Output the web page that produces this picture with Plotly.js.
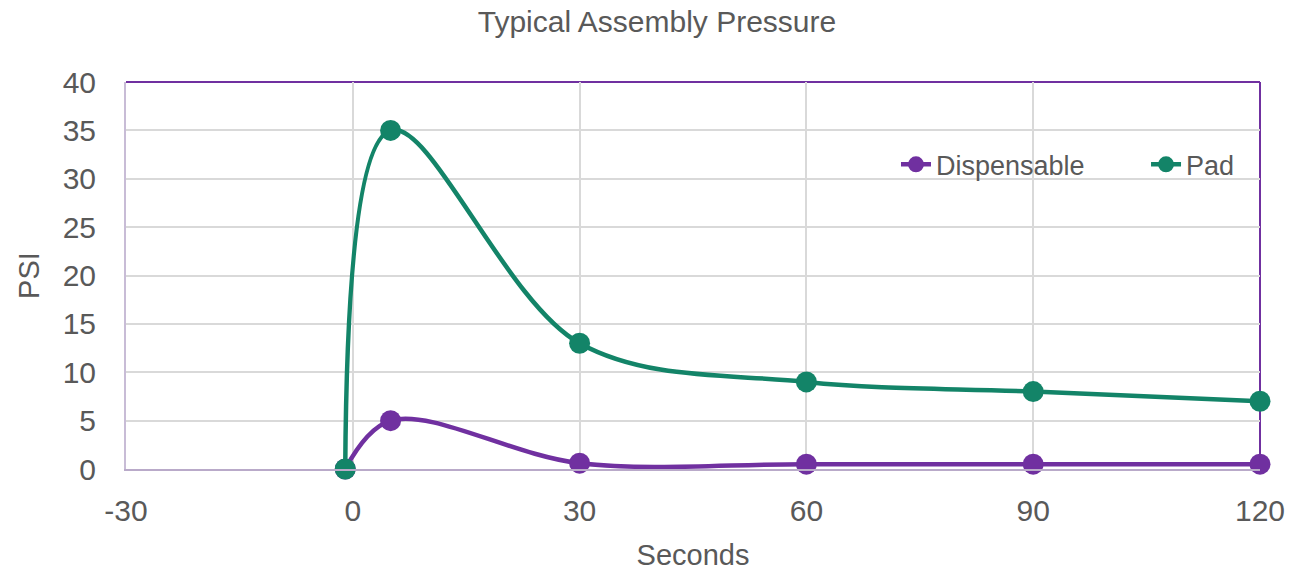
<!DOCTYPE html>
<html>
<head>
<meta charset="utf-8">
<script src="https://cdn.plot.ly/plotly-3.0.1.min.js"></script>
<style>html,body{margin:0;padding:0;background:#fff;}#chart{width:1314px;height:573px;}</style>
</head>
<body>
<div id="chart"></div>
<script>
const seconds = [-1, 5, 30, 60, 90, 120];
const dispensable = [0, 5, 0.6, 0.5, 0.5, 0.5];
const pad = [0, 35, 13, 9, 8, 7];
const xTicks = [-30, 0, 30, 60, 90, 120];
const yTicks = [0, 5, 10, 15, 20, 25, 30, 35, 40];

const font = 'Liberation Sans, Arial, sans-serif';
const grey = '#595959';
const purple = '#7030A0';
const green = '#138468';

const traces = [
  {x: seconds, y: dispensable, name: 'Dispensable', mode: 'lines+markers', type: 'scatter', cliponaxis: false,
   legend: 'legend',
   line: {color: purple, width: 4.5, shape: 'spline', smoothing: 1}, marker: {color: purple, size: 21}},
  {x: seconds, y: pad, name: 'Pad', mode: 'lines+markers', type: 'scatter', cliponaxis: false,
   legend: 'legend2',
   line: {color: green, width: 4.5, shape: 'spline', smoothing: 1}, marker: {color: green, size: 21}}
];

const legendStyle = {orientation: 'h', y: 0.786, xanchor: 'left', yanchor: 'middle',
                     font: {size: 27, color: grey}, bgcolor: 'rgba(255,255,255,0)'};

const layout = {
  width: 1314, height: 573,
  margin: {l: 126, r: 54, t: 82, b: 104},
  paper_bgcolor: '#fff', plot_bgcolor: '#fff',
  font: {family: font, color: grey},
  title: {text: 'Typical Assembly Pressure', font: {size: 30, color: grey, family: font}, x: 0.5, xanchor: 'center', y: 0.962, yanchor: 'middle'},
  xaxis: {range: [-30, 120], tickvals: xTicks, ticktext: xTicks.map(String), tickfont: {size: 30, color: grey},
          showgrid: true, gridcolor: '#d9d9d9', gridwidth: 2, zeroline: false,
          showline: true, linecolor: '#b9aac9', linewidth: 2, ticks: '', ticklabelstandoff: 14,
          title: {text: 'Seconds', font: {size: 29, color: grey}, standoff: 19}},
  yaxis: {range: [0, 40], tickvals: yTicks, tickfont: {size: 30, color: grey},
          showgrid: true, gridcolor: '#d9d9d9', gridwidth: 2, zeroline: false,
          showline: true, linecolor: '#c8bcd6', linewidth: 2, ticks: '', ticklabelstandoff: 22,
          title: {text: 'PSI', font: {size: 29, color: grey}, standoff: 14}},
  shapes: [
    {type: 'line', xref: 'paper', yref: 'paper', x0: 0, x1: 1, y0: 1, y1: 1, layer: 'below', line: {color: purple, width: 2}},
    {type: 'line', xref: 'paper', yref: 'paper', x0: 1, x1: 1, y0: 0, y1: 1, layer: 'below', line: {color: purple, width: 2}}
  ],
  legend: Object.assign({x: 0.679}, legendStyle),
  legend2: Object.assign({x: 0.8995}, legendStyle),
  showlegend: true
};

Plotly.newPlot('chart', traces, layout, {displayModeBar: false, staticPlot: true});
</script>
</body>
</html>
